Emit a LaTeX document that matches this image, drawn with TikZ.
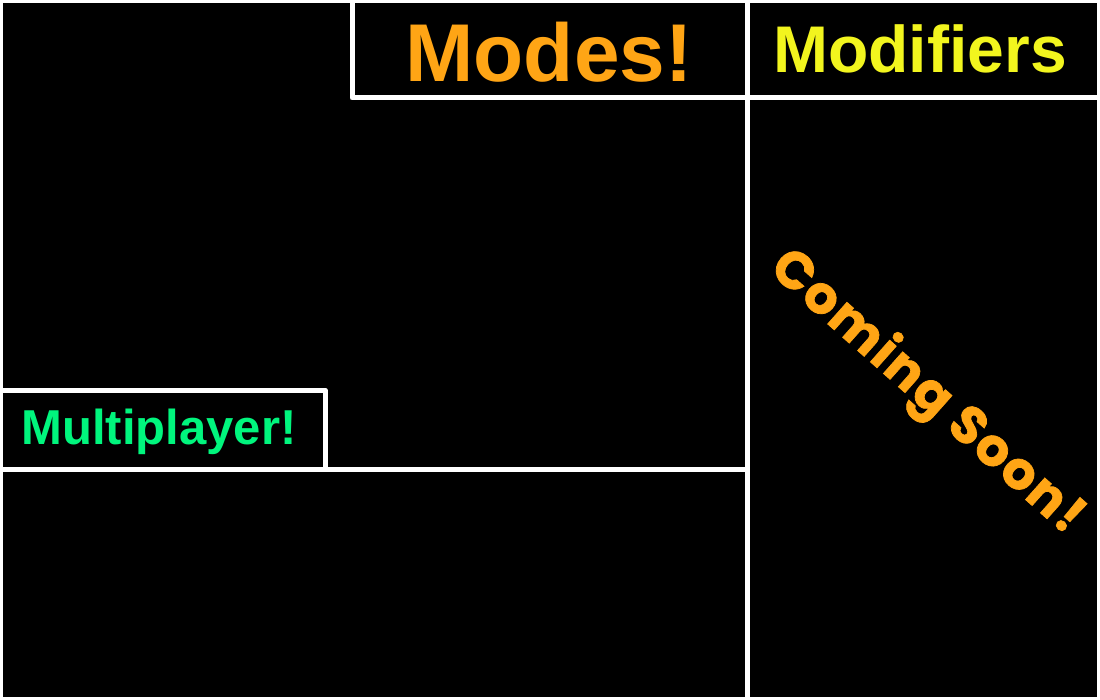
\documentclass[tikz,border=0pt]{standalone}
\usepackage{fontspec}
\setmainfont{Liberation Sans}
\newfontfamily\popfont{Poppins}[BoldFeatures={FakeBold=1.4,LetterSpace=4}]
\definecolor{modeorange}{HTML}{FFA515}
\definecolor{modyellow}{HTML}{F2F51E}
\definecolor{mpgreen}{HTML}{00F57D}
\tikzset{
  wline/.style={draw=white, line width=5pt, line cap=round, line join=round},
  title/.style={font=\bfseries, inner sep=0pt, anchor=center}
}
\begin{document}
\begin{tikzpicture}[x=1pt,y=-1pt]
\fill[white] (0,0) rectangle (1100,700);
\fill[black] (3,3) rectangle (1097,697);
\useasboundingbox (0,0) rectangle (1100,700);
% frame coordinates
\coordinate (mtl) at (352,3);
\coordinate (mbl) at (352,98);
\coordinate (mbr) at (747,98);
\coordinate (vtop) at (747,3);
\coordinate (vbot) at (747,697);
\coordinate (modr) at (1097,98);
\coordinate (ptl) at (3,390);
\coordinate (ptr) at (325,390);
\coordinate (pbr) at (325,469);
\coordinate (pbl) at (3,469);
\coordinate (hr) at (747,469);
\draw[wline] (mtl) -- (mbl) -- (mbr);
\draw[wline] (vtop) -- (vbot);
\draw[wline] (mbr) -- (modr);
\draw[wline] (ptl) -- (ptr) -- (pbr) -- (pbl);
\draw[wline] (pbr) -- (hr);
% texts
\node[title, text=modeorange, font=\fontsize{82}{82}\selectfont\bfseries] (modes) at (549,52) {Modes!};
\node[title, text=modyellow, font=\fontsize{66}{66}\selectfont\bfseries] (modifiers) at (920,49) {Modifiers};
\node[title, text=mpgreen, font=\fontsize{49}{49}\selectfont\bfseries] (multi) at (159,432) {Multiplayer!};
\node[inner sep=0pt, text=modeorange, rotate=-41.6, font=\fontsize{52}{52}\popfont\bfseries] (soon) at (926,393) {Coming Soon!};
\end{tikzpicture}
\end{document}
